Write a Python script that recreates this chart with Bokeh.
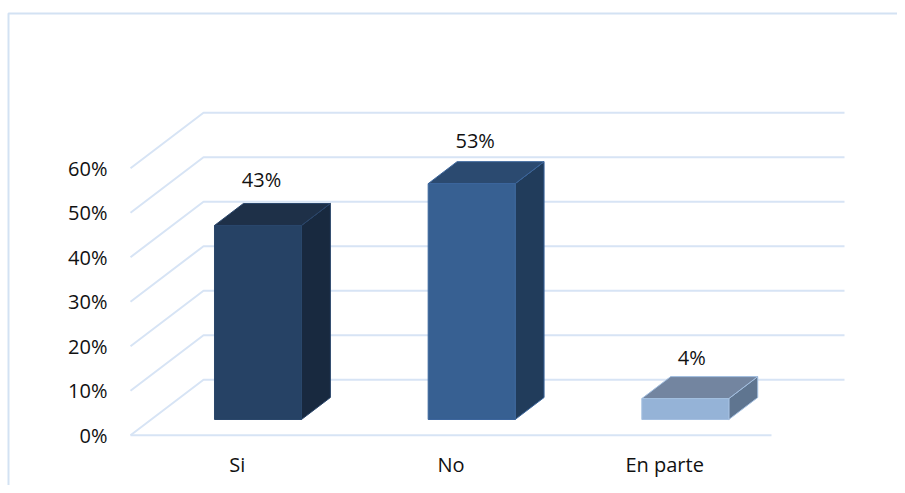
from bokeh.embed import file_html
from bokeh.resources import INLINE
from bokeh.plotting import figure
from bokeh.models import Range1d, FixedTicker
from bokeh.core.properties import value

categories = ["Si", "No", "En parte"]
bar_values = [43.6, 53.0, 4.7]
bar_labels = ["43%", "53%", "4%"]
y_ticks = [0, 10, 20, 30, 40, 50, 60]
y_tick_labels = ["0%", "10%", "20%", "30%", "40%", "50%", "60%"]

FRONT = ["#264265", "#376092", "#95b3d7"]
TOP = ["#1e3048", "#2b4a70", "#7385a0"]
SIDE = ["#18293f", "#213c5b", "#5f7590"]
EDGE = ["#2a466b", "#3c669c", "#a3bfe0"]
GRID = "#d7e4f5"
FRAME = "#d3e2f3"
FONT = "Open Sans"
W, H = 897, 485

# Pixel scales of the chart: one category and one percent
PX_CAT = 213.67
PX_PCT = 4.45
X0 = -130 / PX_CAT
Y1 = 434.7 / PX_PCT
DX = 73 / PX_CAT    # full wall depth, in x units
DY = 55.5 / PX_PCT  # full wall depth, in y units
BAR_W = 87 / PX_CAT
D0, D1 = 0.283, 0.679


def pt(x, y, d):
    return x + d * DX, y + d * DY


def poly(points):
    p_ = [pt(*q) for q in points]
    return [a for a, _ in p_], [b for _, b in p_]


p = figure(width=W, height=H, output_backend="svg", toolbar_location=None,
           x_range=Range1d(X0, X0 + W / PX_CAT),
           y_range=Range1d(Y1 - H / PX_PCT, Y1),
           min_border=0, min_border_left=0, min_border_right=0,
           min_border_top=0, min_border_bottom=0,
           outline_line_color=None, background_fill_color="white")
p.grid.visible = False

# Outer frame (top and left only)
fx = X0 + 8 / PX_CAT
fy = Y1 - 13 / PX_PCT
p.line([X0 + W / PX_CAT, fx, fx], [fy, fy, Y1 - H / PX_PCT], line_color=FRAME, line_width=2)

# Walls: each gridline runs from the front, to the back wall, then right
n = len(categories)
for t in y_ticks:
    xs, ys = poly([(0, t, 0), (0, t, 1), (n, t, 1)])
    p.line(xs, ys, line_color=GRID, line_width=2)
xs, ys = poly([(0, 0, 0), (n, 0, 0)])
p.line(xs, ys, line_color=GRID, line_width=2)

# 3D bars
for i, v in enumerate(bar_values):
    c = i + 0.5
    l, r = c - BAR_W / 2, c + BAR_W / 2
    faces = [
        ([(r, 0, D0), (r, 0, D1), (r, v, D1), (r, v, D0)], SIDE[i]),
        ([(l, v, D0), (l, v, D1), (r, v, D1), (r, v, D0)], TOP[i]),
        ([(l, 0, D0), (r, 0, D0), (r, v, D0), (l, v, D0)], FRONT[i]),
    ]
    for pts, col in faces:
        xs, ys = poly(pts)
        p.patch(xs, ys, fill_color=col, line_color=EDGE[i], line_width=1, line_join="round")

# Data labels above each bar
label_dx = [3.5, 3.5, 6.5]
label_dy = [-24, -21, -19]
for i, v in enumerate(bar_values):
    x, _ = pt(i + 0.5, v, D0)
    _, y = pt(i + 0.5, v, D1)
    p.text([x], [y], text=[bar_labels[i]], x_offset=label_dx[i], y_offset=label_dy[i],
           text_align="center", text_baseline="middle", text_color="#111111",
           text_font=value(FONT), text_font_size="20px")

# Axes: fixed at the front floor corner, no lines, only labels
p.yaxis.fixed_location = 0
p.yaxis.ticker = FixedTicker(ticks=y_ticks)
p.yaxis.major_label_overrides = dict(zip(y_ticks, y_tick_labels))
p.yaxis.major_label_standoff = 17
p.xaxis.fixed_location = 0
p.xaxis.ticker = FixedTicker(ticks=[i + 0.5 for i in range(n)])
p.xaxis.major_label_overrides = {i + 0.5: c for i, c in enumerate(categories)}
p.xaxis.major_label_standoff = 10
for ax in (p.xaxis, p.yaxis):
    ax.axis_line_color = None
    ax.major_tick_line_color = None
    ax.minor_tick_line_color = None
    ax.major_label_text_font = FONT
    ax.major_label_text_font_size = "20px"
    ax.major_label_text_color = "#111111"

open("out.html", "w").write(file_html(p, INLINE))
